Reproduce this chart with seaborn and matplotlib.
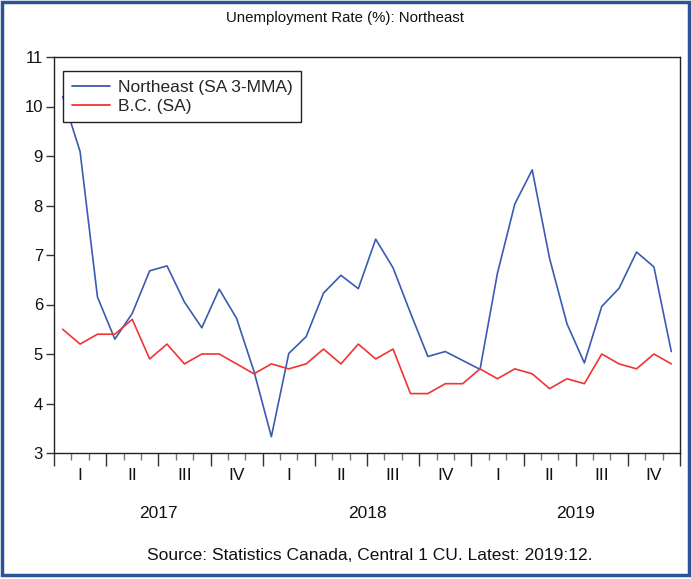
import numpy as np
import pandas as pd
import matplotlib
matplotlib.use("Agg")
import matplotlib.pyplot as plt
import matplotlib.transforms as mtransforms
from matplotlib.patches import Rectangle
import seaborn as sns

# Monthly unemployment rate (%), Jan 2017 - Dec 2019
months = pd.date_range("2017-01-01", "2019-12-01", freq="MS")
northeast = [10.2, 9.09, 6.15, 5.30, 5.82, 6.68, 6.78, 6.05, 5.53, 6.31, 5.72, 4.65,
             3.33, 5.01, 5.35, 6.23, 6.59, 6.32, 7.32, 6.74, 5.83, 4.95, 5.05, 4.87,
             4.69, 6.63, 8.03, 8.72, 6.93, 5.61, 4.82, 5.96, 6.33, 7.06, 6.76, 5.05]
bc = [5.5, 5.2, 5.4, 5.4, 5.7, 4.9, 5.2, 4.8, 5.0, 5.0, 4.8, 4.6,
      4.8, 4.7, 4.8, 5.1, 4.8, 5.2, 4.9, 5.1, 4.2, 4.2, 4.4, 4.4,
      4.7, 4.5, 4.7, 4.6, 4.3, 4.5, 4.4, 5.0, 4.8, 4.7, 5.0, 4.8]
series_names = ["Northeast (SA 3-MMA)", "B.C. (SA)"]
series_colors = ["#3a5bb0", "#f03434"]
quarter_labels = ["I", "II", "III", "IV"]
years = ["2017", "2018", "2019"]
y_ticks = [3, 4, 5, 6, 7, 8, 9, 10, 11]

sns.set_theme(style="white")
plt.rcParams["font.family"] = ["Liberation Sans", "DejaVu Sans"]

df = pd.DataFrame({
    "month": np.tile(np.arange(len(months)), 2),
    "rate": northeast + bc,
    "series": np.repeat(series_names, len(months)),
})

fig = plt.figure(figsize=(6.91, 5.79), dpi=100)
ax = fig.add_axes([54 / 691, 1 - 453 / 579, 626 / 691, 396 / 579])

sns.lineplot(data=df, x="month", y="rate", hue="series", hue_order=series_names,
             palette=series_colors, linewidth=1.2, ax=ax, legend=True)

n = len(months)
ax.set_xlim(-0.5, n - 0.5)
ax.set_ylim(3, 11)
ax.set_yticks(y_ticks)
ax.set_yticklabels([str(v) for v in y_ticks], fontsize=12, color="#111111")
ax.set_xlabel("")
ax.set_ylabel("")

for side in ["left", "right", "top", "bottom"]:
    ax.spines[side].set_color("#222222")
    ax.spines[side].set_linewidth(1.0)

# month boundary ticks (short), quarter boundary ticks (long)
ax.set_xticks(np.arange(-0.5, n, 3))
ax.set_xticks(np.arange(-0.5, n, 1), minor=True)
ax.set_xticklabels([])
ax.tick_params(axis="x", which="major", bottom=True, length=9, width=1.0, color="#333333")
ax.tick_params(axis="x", which="minor", bottom=True, length=5, width=1.0, color="#777777")
ax.tick_params(axis="y", which="major", left=True, length=6, width=1.0, color="#333333", pad=2)

trans = mtransforms.blended_transform_factory(ax.transData, fig.transFigure)
for q in range(n // 3):
    ax.text(q * 3 + 1, 1 - 476 / 579, quarter_labels[q % 4], transform=trans,
            ha="center", va="center", fontsize=12.5, color="#111111")
for i, yr in enumerate(years):
    ax.text(i * 12 + 5.5, 1 - 514 / 579, yr, transform=trans,
            ha="center", va="center", fontsize=12.5, color="#111111")

fig.text(345 / 691, 1 - 18 / 579, "Unemployment Rate (%): Northeast",
         ha="center", va="center", fontsize=10.8, color="#111111")
fig.text(370 / 691, 1 - 556 / 579, "Source: Statistics Canada, Central 1 CU. Latest: 2019:12.",
         ha="center", va="center", fontsize=12.5, color="#111111")

leg = ax.legend(loc="upper left", bbox_to_anchor=(9 / 626, (453 - 71) / 396),
                borderaxespad=0, frameon=True, fancybox=False, framealpha=1,
                edgecolor="#222222", fontsize=12.5, handlelength=2.2,
                handletextpad=0.45, labelspacing=0.22, borderpad=0.5, title=None)
leg.get_frame().set_linewidth(1.0)
for h in leg.get_lines():
    h.set_linewidth(1.3)

# outer frame around the whole figure
fig.patches.append(Rectangle((1.5 / 691, 4.5 / 579), 687 / 691, 573 / 579,
                             transform=fig.transFigure, fill=False,
                             edgecolor="#2b5597", linewidth=2.5))

fig.savefig("out.png", dpi=100)
